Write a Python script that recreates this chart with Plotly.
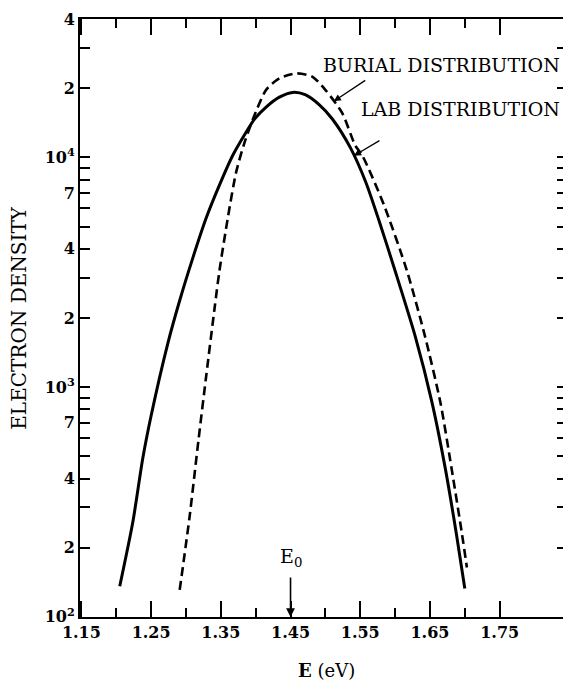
import numpy as np
import plotly.graph_objects as go

# ---- data ----
E_lab = [1.205, 1.224, 1.238, 1.250, 1.274, 1.291, 1.310, 1.329, 1.348, 1.367, 1.386,
         1.398, 1.415, 1.434, 1.453, 1.471, 1.491, 1.510, 1.536, 1.558, 1.577, 1.600,
         1.629, 1.653, 1.672, 1.688, 1.700]
N_lab = [136, 261, 489, 751, 1552, 2383, 3664, 5445, 7570, 10190, 12830,
         14650, 16570, 18300, 19190, 18750, 16980, 14700, 11000, 7800, 5300, 3210,
         1660, 857, 443, 229, 133]

E_bur = [1.291, 1.305, 1.318, 1.329, 1.341, 1.348, 1.360, 1.372, 1.384, 1.396, 1.415,
         1.434, 1.458, 1.481, 1.500, 1.524, 1.543, 1.553, 1.584, 1.617, 1.643, 1.665,
         1.681, 1.696, 1.703]
N_bur = [131, 270, 590, 1117, 2200, 3207, 5445, 8630, 11610, 14650, 19680,
         22090, 23210, 22490, 19680, 15630, 11250, 10190, 6210, 3210, 1660, 857,
         443, 229, 164]

x_major = [1.15, 1.25, 1.35, 1.45, 1.55, 1.65, 1.75]
x_major_text = ["1.15", "1.25", "1.35", "1.45", "1.55", "1.65", "1.75"]
x_minor = [1.20, 1.30, 1.40, 1.50, 1.60, 1.70]

y_labeled = [100, 200, 400, 700, 1000, 2000, 4000, 7000, 10000, 20000, 40000]
y_labeled_text = ["10<sup>2</sup>", "2", "4", "7", "10<sup>3</sup>", "2", "4", "7",
                  "10<sup>4</sup>", "2", "4"]
y_minor = [300, 500, 600, 800, 900, 3000, 5000, 6000, 8000, 9000, 30000]
y_decades = [100, 1000, 10000]

E0 = 1.45
burial_label = "BURIAL DISTRIBUTION"
lab_label = "LAB DISTRIBUTION"

FONT = "DejaVu Serif"
XR = [1.148, 1.8466]
YR = [1.9995, 4.6025]

# page pixel geometry of the plot area (the page body adds an 8px offset)
PX_L, PX_T, PX_W, PX_H = 80, 14, 489, 603


def px(xp):
    return (xp - PX_L) / PX_W


def py(yp):
    return (PX_T + PX_H - yp) / PX_H


fig = go.Figure()
fig.add_trace(go.Scatter(x=E_lab, y=N_lab, mode="lines",
                         line=dict(color="black", width=3, shape="spline", smoothing=0.7),
                         showlegend=False))
fig.add_trace(go.Scatter(x=E_bur, y=N_bur, mode="lines",
                         line=dict(color="black", width=2.6, dash="9px,5px",
                                   shape="spline", smoothing=0.7),
                         showlegend=False))

fig.update_layout(
    width=563, height=675,
    margin=dict(l=72, r=2, t=6, b=66),
    paper_bgcolor="white", plot_bgcolor="white",
    font=dict(family=FONT, color="black", size=16),
    xaxis=dict(range=XR, showgrid=False, zeroline=False,
               showline=True, linewidth=2, linecolor="black", mirror="ticks",
               ticks="inside", ticklen=16, tickwidth=1.5, tickcolor="black",
               tickvals=x_major, ticktext=x_major_text, ticklabeloverflow="allow",
               tickfont=dict(family=FONT, size=16, weight="bold"),
               minor=dict(tickvals=x_minor, ticks="inside", ticklen=9,
                          tickwidth=1.5, tickcolor="black")),
    yaxis=dict(type="log", range=YR, showgrid=False, zeroline=False,
               showline=True, linewidth=2, linecolor="black", mirror="ticks",
               ticks="inside", ticklen=10, tickwidth=1.5, tickcolor="black",
               tickvals=y_labeled, ticktext=y_labeled_text, ticklabeloverflow="allow",
               tickfont=dict(family=FONT, size=16, weight="bold"),
               minor=dict(tickvals=y_minor, ticks="inside", ticklen=10,
                          tickwidth=1.5, tickcolor="black")),
    yaxis2=dict(type="log", range=YR, overlaying="y", side="left", anchor="x",
                showgrid=False, zeroline=False, showline=False, mirror="ticks",
                ticks="inside", ticklen=18, tickwidth=1.5, tickcolor="black",
                tickvals=y_decades, showticklabels=False),
)

# axis titles
fig.add_annotation(xref="paper", yref="paper", x=px(18.5), y=0.5,
                   text="ELECTRON DENSITY", textangle=-90, showarrow=False,
                   font=dict(family=FONT, size=20), xanchor="center", yanchor="middle")
fig.add_annotation(xref="paper", yref="paper", x=px(328), y=py(671),
                   text="<b>E</b> (eV)", showarrow=False,
                   font=dict(family=FONT, size=18), xanchor="center", yanchor="middle")

# E0 marker
fig.add_annotation(xref="x", yref="paper", x=E0, y=0, text="", showarrow=True,
                   ax=0, ay=-41, arrowhead=2, arrowsize=1.1, arrowwidth=1.6, arrowcolor="black")
fig.add_annotation(xref="x", yref="paper", x=E0, y=py(557),
                   text="E<sub>0</sub>", showarrow=False,
                   font=dict(family=FONT, size=19), xanchor="center", yanchor="middle")

# curve labels with arrows pointing at the curves
E_bur_pt = 1.512
E_lab_pt = 1.541
y_bur_pt = float(np.interp(E_bur_pt, E_bur, np.log10(N_bur)))
y_lab_pt = float(np.interp(E_lab_pt, E_lab, np.log10(N_lab)))
fig.add_annotation(x=E_bur_pt, y=y_bur_pt, text="", showarrow=True, ax=33, ay=-22,
                   arrowhead=2, arrowsize=1.1, arrowwidth=1.3, arrowcolor="black")
fig.add_annotation(x=E_lab_pt, y=y_lab_pt, text="", showarrow=True, ax=27, ay=-16,
                   arrowhead=2, arrowsize=1.1, arrowwidth=1.3, arrowcolor="black")
fig.add_annotation(xref="paper", yref="paper", x=px(564), y=py(60),
                   text=burial_label, showarrow=False, xanchor="right", yanchor="middle",
                   font=dict(family=FONT, size=19))
fig.add_annotation(xref="paper", yref="paper", x=px(564), y=py(105),
                   text=lab_label, showarrow=False, xanchor="right", yanchor="middle",
                   font=dict(family=FONT, size=19))

fig.write_html("out.html")
